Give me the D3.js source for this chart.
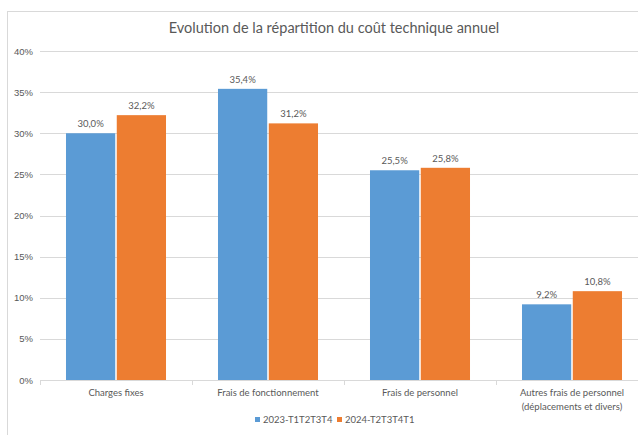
<!DOCTYPE html>
<html>
<head>
<meta charset="utf-8">
<script src="https://cdn.jsdelivr.net/npm/d3@7"></script>
<style>
  body { margin: 0; background: #fff; }
  svg { display: block; font-family: Lato, "Open Sans", sans-serif; }
  .tick text, .lbl, .cat, .leg { fill: #595959; }
</style>
</head>
<body>
<svg id="chart" width="638" height="435"></svg>
<script>
'use strict'

// data
const categories = ['Charges fixes', 'Frais de fonctionnement', 'Frais de personnel', 'Autres frais de personnel\n(déplacements et divers)']
const seriesNames = ['2023-T1T2T3T4', '2024-T2T3T4T1']
const values2023 = [0.300, 0.354, 0.255, 0.092]
const values2024 = [0.322, 0.312, 0.258, 0.108]
const yTicks = [0, 0.05, 0.10, 0.15, 0.20, 0.25, 0.30, 0.35, 0.40]
const colors = ['#5B9BD5', '#ED7D31']

const seriesValues = [values2023, values2024]
const rows = categories.map((c, i) => ({cat: c, vals: seriesNames.map((s, j) => ({s: s, v: seriesValues[j][i]}))}))

const svg = d3.select('#chart')

// chart frame
svg.append('rect')
  .attr('x', 7.5).attr('y', 11.5)
  .attr('width', 700).attr('height', 500)
  .attr('fill', '#fff').attr('stroke', '#d9d9d9')

// title
svg.append('text')
  .attr('x', 334).attr('y', 33)
  .attr('text-anchor', 'middle')
  .attr('font-size', 14.5)
  .attr('fill', '#595959')
  .text('Evolution de la répartition du coût technique annuel')

// scales
const x0 = d3.scaleBand()
  .domain(categories)
  .range([40, 648])
  .paddingInner(0.342)
  .paddingOuter(0.171)

const x1 = d3.scaleBand()
  .domain(seriesNames)
  .range([0, x0.bandwidth()])
  .paddingInner(0.03)

const y = d3.scaleLinear()
  .domain([0, 0.4])
  .range([380, 51])

// gridlines
svg.append('g')
  .selectAll('line')
  .data(yTicks.slice(1))
  .enter().append('line')
    .attr('x1', 40).attr('x2', 648)
    .attr('y1', d => Math.round(y(d)) + 0.5)
    .attr('y2', d => Math.round(y(d)) + 0.5)
    .attr('stroke', '#d9d9d9')

// y axis labels
const yAxis = svg.append('g')
  .attr('transform', 'translate(40,0)')
  .call(d3.axisLeft(y).tickValues(yTicks).tickFormat(d3.format('.0%')).tickSize(0).tickPadding(7))
yAxis.select('.domain').remove()
yAxis.selectAll('text').attr('font-size', 9.5).attr('fill', '#595959')

// bars
const groups = svg.append('g')
  .selectAll('g')
  .data(rows)
  .enter().append('g')
    .attr('transform', d => 'translate(' + x0(d.cat) + ',0)')

groups.selectAll('rect')
  .data(d => d.vals)
  .enter().append('rect')
    .attr('x', d => x1(d.s))
    .attr('y', d => y(d.v))
    .attr('width', x1.bandwidth())
    .attr('height', d => y(0) - y(d.v))
    .attr('fill', (d, i) => colors[i])

// data labels
const fmt = v => d3.format('.1f')(v * 100).replace('.', ',') + '%'
groups.selectAll('text')
  .data(d => d.vals)
  .enter().append('text')
    .classed('lbl', true)
    .attr('x', d => x1(d.s) + x1.bandwidth() / 2)
    .attr('y', d => y(d.v) - 6)
    .attr('text-anchor', 'middle')
    .attr('font-size', 9.5)
    .text(d => fmt(d.v))

// x axis line and tick marks
const step = x0.step()
const half = (step - x0.bandwidth()) / 2
svg.append('line')
  .attr('x1', 40).attr('x2', 648)
  .attr('y1', Math.round(y(0)) + 0.5).attr('y2', Math.round(y(0)) + 0.5)
  .attr('stroke', '#d9d9d9')
svg.append('g')
  .selectAll('line')
  .data(categories)
  .enter().append('line')
    .attr('x1', d => Math.round(x0(d) - half) + 0.5)
    .attr('x2', d => Math.round(x0(d) - half) + 0.5)
    .attr('y1', y(0)).attr('y2', y(0) + 5)
    .attr('stroke', '#d9d9d9')

// category labels
const catText = svg.append('g')
  .selectAll('text')
  .data(categories)
  .enter().append('text')
    .classed('cat', true)
    .attr('x', d => x0(d) + x0.bandwidth() / 2)
    .attr('y', 396)
    .attr('text-anchor', 'middle')
    .attr('font-size', 9.5)
catText.selectAll('tspan')
  .data(d => d.split('\n'))
  .enter().append('tspan')
    .attr('x', function () { return d3.select(this.parentNode).attr('x') })
    .attr('dy', (d, i) => i === 0 ? 0 : 14)
    .text(d => d)

// legend
const legend = svg.append('g')
  .selectAll('g')
  .data(seriesNames)
  .enter().append('g')
    .attr('transform', (d, i) => 'translate(' + (255 + i * 82) + ',423)')
legend.append('rect')
  .attr('x', 0).attr('y', -6)
  .attr('width', 5).attr('height', 5)
  .attr('fill', (d, i) => colors[i])
legend.append('text')
  .classed('leg', true)
  .attr('x', 8).attr('y', 0)
  .attr('font-size', 9.5)
  .text(d => d)
</script>
</body>
</html>
